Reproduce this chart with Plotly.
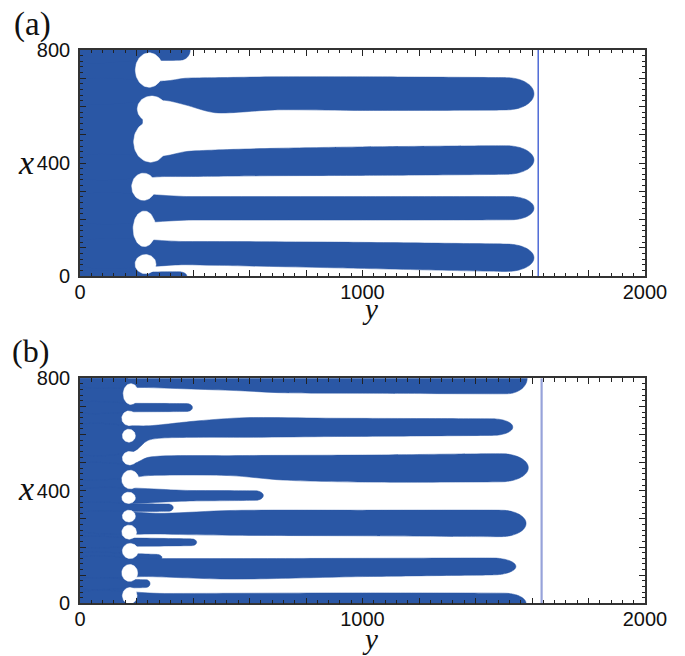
import numpy as np
import plotly.graph_objects as go

# ---------------- data ----------------
# axes: horizontal = y (0..2000), vertical = x (0..800)
X_TICK_VALS = list(range(0, 2001, 200))
X_TICK_TEXT = ["0", "", "", "", "", "1000", "", "", "", "", "2000"]
Y_TICK_VALS = list(range(0, 801, 100))
Y_TICK_TEXT = ["0", "", "", "", "400", "", "", "", "800"]

# ---- panel (a) ----
A_RESERVOIR = 222          # solid blue region 0 .. this y
A_FRONT_LINE = 1622        # vertical line position
# fingers: y stations, lower edge x, upper edge x, tip y
A_FY = [[0, 300, 372, 478, 690, 1000, 1510],
        [0, 300, 372, 478, 690, 1000, 1510],
        [0, 400, 1000, 1525],
        [0, 372, 478, 900, 1510],
        [0, 200, 355],
        [0, 200, 350]]
A_FLO = [[615, 622, 606, 578, 588, 586, 588],
         [350, 352, 352, 353, 355, 356, 360],
         [198, 198, 198, 199],
         [40, 40, 38, 29, 16],
         [762, 762, 764],
         [-16, -16, -15]]
A_FHI = [[690, 690, 700, 702, 705, 705, 702],
         [420, 425, 440, 446, 452, 457, 461],
         [281, 281, 281, 281],
         [118, 122, 122, 120, 113],
         [838, 838, 836],
         [14, 14, 15]]
A_FTIP = [1607, 1607, 1607, 1607, 390, 378]
# white heads of the gaps: centre y, centre x, half-length in y, half-width in x
A_HY = [245, 254, 250, 225, 228, 232]
A_HX = [729, 591, 475, 316, 167, 42]
A_HRY = [49, 51, 60, 42, 40, 37]
A_HRX = [61, 46, 72, 48, 63, 34]

# ---- panel (b) ----
B_RESERVOIR = 170
B_FRONT_LINE = 1634
B_FY = [[0, 242, 584, 700, 1000, 1510],          # top strip
        [0, 200, 378],                           # short
        [0, 190, 242, 420, 584, 900, 1460],      # long
        [0, 190, 242, 531, 720, 1000, 1490],     # long
        [0, 400, 620],                           # medium
        [0, 200, 312],                           # short
        [0, 300, 531, 1000, 1490],               # long
        [0, 200, 395],                           # short
        [0, 200, 270],                           # hook
        [0, 242, 531, 1000, 1460],               # long
        [0, 190, 232],                           # blob
        [0, 300, 1000, 1500]]                    # bottom strip
B_FLO = [[775, 767, 755, 749, 747, 745],
         [681, 681, 682],
         [535, 540, 580, 590, 590, 593, 597],
         [445, 448, 454, 454, 438, 431, 432],
         [364, 364, 366],
         [326, 326, 327],
         [262, 246, 242, 240, 237],
         [203, 203, 205],
         [150, 150, 152],
         [98, 95, 86, 95, 101],
         [55, 55, 56],
         [-35, -35, -37, -36]]
B_FHI = [[825, 833, 845, 851, 853, 855],
         [711, 711, 710],
         [631, 631, 631, 649, 660, 658, 656],
         [495, 497, 519, 525, 526, 527, 532],
         [401, 401, 400],
         [354, 354, 353],
         [318, 320, 330, 331, 331],
         [232, 232, 229],
         [176, 176, 174],
         [160, 159, 159, 160, 161],
         [85, 85, 84],
         [35, 35, 37, 36]]
B_FTIP = [1583, 398, 1532, 1587, 649, 330, 1579, 413, 290, 1543, 248, 1579]
B_HY = [180, 173, 176, 178, 172, 173, 174, 178, 176, 176, 173]
B_HX = [744, 658, 516, 440, 375, 310, 253, 186, 108, 27, 596]
B_HRY = [27, 25, 26, 30, 24, 23, 26, 28, 28, 26, 23]
B_HRX = [37, 26, 24, 33, 20, 21, 25, 27, 30, 29, 23]

BLUE = "#2A57A5"
W, H = 685, 656
PLOT_L, PLOT_R = 80, 645
A_TOP, A_BOT = 50, 276
B_TOP, B_BOT = 378.3, 603.3


def finger_path(ys, lo, hi, tip, ncap=10):
    ye, le, he = ys[-1], lo[-1], hi[-1]
    c = 0.5 * (le + he)
    h = 0.5 * (he - le)
    L = tip - ye
    t = np.linspace(0, np.pi, 2 * ncap + 1)
    cap_y = ye + L * np.sin(t)
    cap_x = c + h * np.cos(t)
    py = list(ys[:-1]) + list(cap_y) + list(ys[-2::-1])
    px = list(hi[:-1]) + list(cap_x) + list(lo[-2::-1])
    py.append(py[0])
    px.append(px[0])
    return py, px


def ellipse(cy, cx, ry, rx, n=64):
    t = np.linspace(0, 2 * np.pi, n)
    return list(cy + ry * np.cos(t)), list(cx + rx * np.sin(t))


fig = go.Figure()


def add_panel(xa, ya, res, fy, flo, fhi, ftip, hy, hx, hry, hrx, line_y, line_col, line_w):
    fig.add_trace(go.Scatter(x=[-20, res, res, -20, -20], y=[-20, -20, 820, 820, -20],
                             mode="lines", fill="toself", fillcolor=BLUE,
                             line=dict(width=0, color=BLUE), hoverinfo="skip",
                             xaxis=xa, yaxis=ya, showlegend=False))
    for ys, lo, hi, tp in zip(fy, flo, fhi, ftip):
        py, px = finger_path(ys, lo, hi, tp)
        fig.add_trace(go.Scatter(x=py, y=px, mode="lines", fill="toself", fillcolor=BLUE,
                                 line=dict(width=0.5, color=BLUE, shape="spline", smoothing=0.8),
                                 hoverinfo="skip", xaxis=xa, yaxis=ya, showlegend=False))
    for cy, cx, ry, rx in zip(hy, hx, hry, hrx):
        ey, ex = ellipse(cy, cx, ry, rx)
        fig.add_trace(go.Scatter(x=ey, y=ex, mode="lines", fill="toself", fillcolor="white",
                                 line=dict(width=0.5, color="white"), hoverinfo="skip",
                                 xaxis=xa, yaxis=ya, showlegend=False))
    fig.add_trace(go.Scatter(x=[line_y, line_y], y=[0, 800], mode="lines",
                             line=dict(color=line_col, width=line_w), hoverinfo="skip",
                             xaxis=xa, yaxis=ya, showlegend=False))


add_panel("x", "y", A_RESERVOIR, A_FY, A_FLO, A_FHI, A_FTIP, A_HY, A_HX, A_HRY, A_HRX,
          A_FRONT_LINE, "#4F6BD6", 1.5)
add_panel("x2", "y2", B_RESERVOIR, B_FY, B_FLO, B_FHI, B_FTIP, B_HY, B_HX, B_HRY, B_HRX,
          B_FRONT_LINE, "#97A3DA", 2.2)

tickfont = dict(family="Liberation Sans, Arial, sans-serif", size=20, color="#111")


def xaxis_cfg(anchor, dom):
    return dict(domain=dom, anchor=anchor, range=[0, 2000], tickmode="array",
                tickvals=X_TICK_VALS, ticktext=X_TICK_TEXT, ticks="inside", ticklen=6,
                tickwidth=1.3, tickcolor="#222",
                minor=dict(tickmode="linear", tick0=0, dtick=40, ticks="inside", ticklen=3.5,
                           tickwidth=1.1, tickcolor="#222"),
                showline=True, linecolor="#333", linewidth=1.6, mirror="ticks",
                showgrid=False, zeroline=False, tickfont=tickfont, ticklabelstandoff=-3,
                automargin=False)


def yaxis_cfg(anchor, dom):
    return dict(domain=dom, anchor=anchor, range=[0, 800], tickmode="array",
                tickvals=Y_TICK_VALS, ticktext=Y_TICK_TEXT, ticks="inside", ticklen=6,
                tickwidth=1.3, tickcolor="#222",
                minor=dict(tickmode="linear", tick0=0, dtick=20, ticks="inside", ticklen=3.5,
                           tickwidth=1.1, tickcolor="#222"),
                showline=True, linecolor="#333", linewidth=1.6, mirror="ticks",
                showgrid=False, zeroline=False, tickfont=tickfont, ticklabelstandoff=4,
                automargin=False)


xd = [PLOT_L / W, PLOT_R / W]
fig.update_layout(
    template="none",
    width=W, height=H, autosize=False, margin=dict(l=0, r=0, t=0, b=0, pad=0),
    paper_bgcolor="white", plot_bgcolor="white", showlegend=False,
    xaxis=xaxis_cfg("y", xd),
    yaxis=yaxis_cfg("x", [1 - A_BOT / H, 1 - A_TOP / H]),
    xaxis2=xaxis_cfg("y2", xd),
    yaxis2=yaxis_cfg("x2", [1 - B_BOT / H, 1 - B_TOP / H]),
)

serif = "Liberation Serif, Times New Roman, serif"
ann = [
    dict(text="(a)", px=13, py=24, size=33, xa="left", ya="middle"),
    dict(text="(b)", px=11, py=351, size=32, xa="left", ya="middle"),
    dict(text="<i>x</i>", px=26, py=162, size=34, xa="center", ya="middle"),
    dict(text="<i>x</i>", px=26, py=488, size=34, xa="center", ya="middle"),
    dict(text="<i>y</i>", px=370, py=326, size=29, xa="center", ya="bottom"),
    dict(text="<i>y</i>", px=370, py=656, size=29, xa="center", ya="bottom"),
]
for a in ann:
    fig.add_annotation(text=a["text"], xref="paper", yref="paper",
                       x=a["px"] / W, y=1 - a["py"] / H, xanchor=a["xa"], yanchor=a["ya"],
                       showarrow=False, borderpad=0,
                       font=dict(family=serif, size=a["size"], color="#111"))

fig.write_html("out.html")
